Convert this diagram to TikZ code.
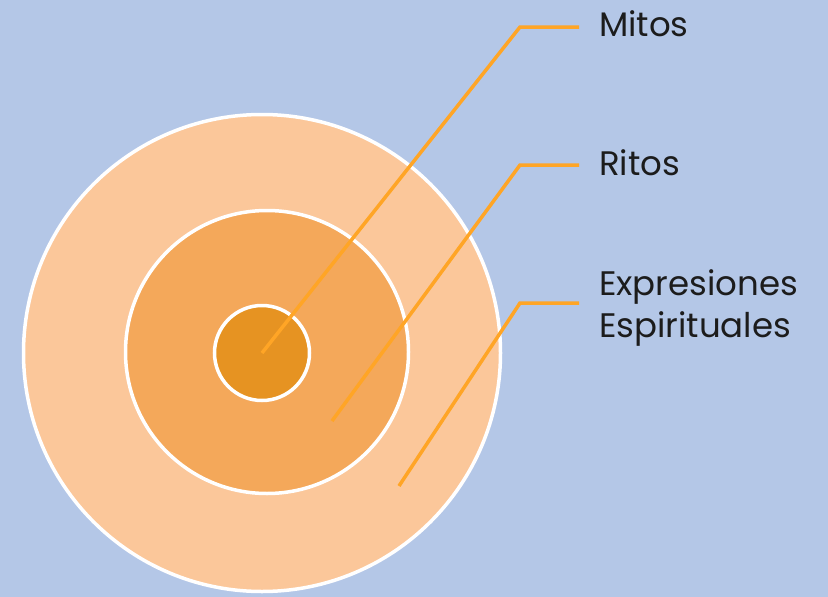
\documentclass[tikz,border=0pt]{standalone}
\usepackage{fontspec}
\setmainfont{Poppins}
\usetikzlibrary{positioning}

\definecolor{bgblue}{HTML}{B4C7E7}
\definecolor{ringout}{HTML}{FBC79A}
\definecolor{ringmid}{HTML}{F4A85A}
\definecolor{ringin}{HTML}{E69322}
\definecolor{linkorange}{HTML}{FFA526}
\definecolor{labeltext}{HTML}{1C1C1C}

\begin{document}
\begin{tikzpicture}[x=1pt,y=-1pt,
  ring/.style={circle,draw=white,line width=3.5pt,inner sep=0pt},
  link/.style={draw=linkorange,line width=3.5pt,shorten >=20pt},
  label/.style={anchor=base west,inner sep=0pt,text=labeltext,align=left,
    font=\fontsize{34}{42}\selectfont}]
\fill[bgblue] (0,0) rectangle (828,597);
\coordinate (center) at (262,353);

% The rings
\node (outer) at (center) [ring,fill=ringout,minimum size=477pt]{};
\node (middle) at ([shift={(5,-1)}]center) [ring,fill=ringmid,minimum size=283pt]{};
\node (inner) at (center) [ring,fill=ringin,minimum size=95pt]{};

% The labels
\node (mitos) at (599,36) [label]{Mitos};
\node (ritos) at (599,175) [label]{Ritos};
\node (expr) at (599,337) [label]{Expresiones\\Espirituales};

% Start points and bends
\path (center) ++(70,68) coordinate(ritospt);
\path (center) ++(137,133) coordinate(exprpt);
\coordinate (mitosbend) at (520,27);
\coordinate (ritosbend) at (520,165);
\coordinate (exprbend) at (520,303);

% The connectors
\draw[link] (inner.center) -- (mitosbend) -- (mitosbend -| mitos.west);
\draw[link] (ritospt) -- (ritosbend) -- (ritosbend -| ritos.west);
\draw[link] (exprpt) -- (exprbend) -- (exprbend -| expr.west);

\end{tikzpicture}
\end{document}
